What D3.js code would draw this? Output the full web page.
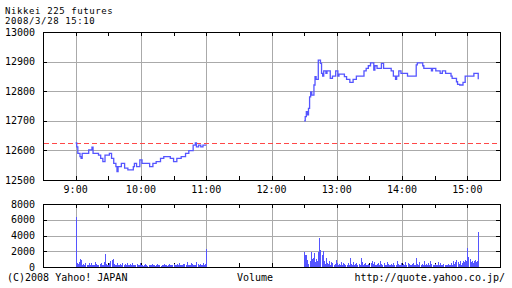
<!DOCTYPE html>
<html>
<head>
<meta charset="utf-8">
<script src="https://cdn.jsdelivr.net/npm/d3@7"></script>
<style>
  body { margin: 0; background: #fff; }
  svg text { font-family: "DejaVu Sans Mono", monospace; font-size: 10px; fill: #000; }
  svg text.title { font-size: 9px; letter-spacing: 0.6px; }
</style>
</head>
<body>
<svg id="chart" width="512" height="288"></svg>
<script>
// price steps (time of change, price)
const morningTimes = ["9:00","9:01","9:02","9:04","9:05","9:06","9:12","9:15","9:16","9:21",
  "9:23","9:25","9:27","9:31","9:33","9:35","9:37","9:38","9:39","9:42",
  "9:45","9:48","9:53","9:54","9:56","9:59","10:01","10:08","10:11","10:14",
  "10:18","10:21","10:27","10:30","10:33","10:37","10:41","10:44","10:48","10:50",
  "10:51","10:53","10:55","10:57","11:00"];
const morningPrices = [12625,12612,12590,12579,12573,12590,12602,12611,12590,12584,
  12573,12562,12584,12590,12573,12556,12545,12528,12545,12556,
  12540,12534,12545,12556,12545,12568,12556,12545,12556,12562,
  12573,12579,12573,12562,12573,12579,12590,12599,12618,12625,
  12612,12618,12612,12618,12618];
const afternoonTimes = ["12:30","12:31","12:32","12:33","12:34","12:35","12:36","12:37","12:39","12:40",
  "12:41","12:43","12:45","12:46","12:47","12:48","12:50","12:51","12:54","12:56",
  "12:59","13:01","13:02","13:07","13:09","13:12","13:15","13:18","13:25","13:27",
  "13:29","13:31","13:34","13:35","13:37","13:41","13:43","13:50","13:52","13:54",
  "13:55","13:57","13:59","14:05","14:13","14:14","14:19","14:20","14:27","14:28",
  "14:31","14:35","14:37","14:40","14:45","14:46","14:50","14:51","14:53","14:56",
  "14:58","15:06","15:10"];
const afternoonPrices = [12700,12714,12731,12720,12742,12781,12798,12787,12821,12849,
  12840,12905,12894,12860,12851,12869,12860,12869,12843,12851,
  12869,12851,12858,12849,12840,12830,12840,12851,12869,12877,
  12886,12896,12871,12886,12877,12894,12877,12869,12851,12840,
  12851,12869,12860,12851,12889,12896,12886,12877,12869,12877,
  12869,12860,12869,12860,12851,12843,12832,12823,12821,12830,
  12851,12860,12840];
const previousClose = 12626;

// volume per minute, starting at volumeStarts
const volumeStarts = ["9:00", "12:30"];
const morningVolume = [6400,500,400,600,1000,900,300,400,200,500,
  300,200,450,300,500,200,300,250,600,400,
  300,200,350,500,200,300,600,1650,400,300,
  200,500,800,900,1000,400,300,200,500,300,
  250,400,300,500,200,350,300,450,200,300,
  400,250,500,300,200,300,400,200,300,500,
  300,200,150,300,400,200,100,300,200,250,
  400,200,300,150,200,350,300,200,100,300,
  200,400,300,200,150,300,400,200,300,250,
  350,200,300,400,300,500,250,300,200,350,
  400,300,600,200,300,250,500,400,300,200,
  300,600,350,200,400,300,250,500,300,400,
  2300];
const afternoonVolume = [1950,1500,1500,900,400,800,1900,1000,1200,1800,
  600,1000,700,1900,3700,2100,1500,2000,800,400,
  1200,500,400,800,300,600,500,200,400,900,
  500,300,400,200,600,300,500,400,200,300,
  500,300,1100,400,300,600,200,400,500,300,
  400,200,1200,600,300,400,500,200,300,400,
  300,500,800,400,600,300,200,400,500,300,
  700,400,300,500,200,300,600,400,300,200,
  400,300,500,200,300,800,400,300,200,500,
  300,400,200,600,300,500,400,200,300,400,
  500,300,200,1100,400,300,600,200,400,300,
  800,300,400,200,500,300,700,400,200,300,
  400,300,200,600,300,500,200,300,400,300,
  200,300,400,300,200,500,300,800,400,600,
  900,600,400,800,300,500,700,600,900,700,
  2400,1300,1000,600,800,500,700,900,600,800,
  4400];

const hourLabels = ["9:00","10:00","11:00","12:00","13:00","14:00","15:00"];
const priceTicks = [12500,12600,12700,12800,12900,13000];
const volumeTicks = [0,2000,4000,6000,8000];

function toMin(s) {
  let p = s.split(":");
  return +p[0] * 60 + +p[1];
}

let svg = d3.select("#chart");
let left = 43, right = 500;

let x = d3.scaleLinear().domain([toMin("8:30"), toMin("15:30")]).range([left, right]);
let yPrice = d3.scaleLinear().domain([12500, 13000]).range([180, 32]);
let yVol = d3.scaleLinear().domain([0, 8000]).range([267, 204]);

let halfHours = d3.range(toMin("9:00"), toMin("15:30"), 30);

// Draws grid, ticks, labels and frame for one panel
function panel(y, ticks, top, bottom) {
  let g = svg.append("g").attr("shape-rendering", "crispEdges");

  g.selectAll(".vgrid")
      .data(hourLabels)
      .enter().append("line")
      .attr("x1", d => Math.round(x(toMin(d))) + 0.5)
      .attr("x2", d => Math.round(x(toMin(d))) + 0.5)
      .attr("y1", top).attr("y2", bottom)
      .attr("stroke", "#aaa");

  g.selectAll(".hgrid")
      .data(ticks.slice(1, -1))
      .enter().append("line")
      .attr("x1", left).attr("x2", right)
      .attr("y1", d => Math.round(y(d)) + 0.5)
      .attr("y2", d => Math.round(y(d)) + 0.5)
      .attr("stroke", "#aaa");

  // inward tick marks
  halfHours.forEach(function(t) {
    let px = Math.round(x(t)) + 0.5;
    g.append("line").attr("x1", px).attr("x2", px).attr("y1", top).attr("y2", top + 4).attr("stroke", "#000");
    g.append("line").attr("x1", px).attr("x2", px).attr("y1", bottom - 4).attr("y2", bottom).attr("stroke", "#000");
  });
  ticks.forEach(function(v) {
    let py = Math.round(y(v)) + 0.5;
    g.append("line").attr("x1", left).attr("x2", left + 4).attr("y1", py).attr("y2", py).attr("stroke", "#000");
    g.append("line").attr("x1", right - 4).attr("x2", right).attr("y1", py).attr("y2", py).attr("stroke", "#000");
  });

  svg.append("g")
      .selectAll("text")
      .data(ticks)
      .enter().append("text")
      .attr("x", 35)
      .attr("y", d => y(d) + 3.5)
      .attr("text-anchor", "end")
      .text(d => d);

  return g;
}

panel(yPrice, priceTicks, 32, 180);
panel(yVol, volumeTicks, 204, 267);

// previous close, red dashes
let closeY = Math.round(yPrice(previousClose));
svg.append("g")
    .attr("shape-rendering", "crispEdges")
    .selectAll("rect")
    .data(d3.range(left + 1, right, 8))
    .enter().append("rect")
    .attr("x", d => d)
    .attr("y", closeY)
    .attr("width", d => Math.min(5, right - d))
    .attr("height", 1)
    .style("fill", "#ff4848");

// price line
let line = d3.line()
    .x(d => x(toMin(d[0])))
    .y(d => yPrice(d[1]))
    .curve(d3.curveStepAfter);

[[morningTimes, morningPrices], [afternoonTimes, afternoonPrices]].forEach(function(s) {
  svg.append("path")
      .datum(d3.zip(s[0], s[1]))
      .attr("fill", "none")
      .attr("stroke", "#5555ff")
      .attr("stroke-width", 1.3)
      .attr("d", line);
});

// volume bars
let bars = [];
[morningVolume, afternoonVolume].forEach(function(vols, i) {
  let start = toMin(volumeStarts[i]);
  vols.forEach(function(v, j) { bars.push({t: start + j, v: v}); });
});

svg.append("g")
    .attr("shape-rendering", "crispEdges")
    .selectAll("rect")
    .data(bars)
    .enter().append("rect")
    .attr("x", d => Math.round(x(d.t)))
    .attr("width", 1)
    .attr("y", d => Math.round(yVol(d.v)))
    .attr("height", d => 267 - Math.round(yVol(d.v)))
    .attr("fill", "#5555ff");

// frames
[[32, 180], [204, 267]].forEach(function(r) {
  svg.append("rect")
      .attr("x", left + 0.5).attr("y", r[0] + 0.5)
      .attr("width", right - left).attr("height", r[1] - r[0])
      .attr("fill", "none")
      .attr("stroke", "#000")
      .attr("shape-rendering", "crispEdges");
});

// hour labels
svg.append("g")
    .selectAll("text")
    .data(hourLabels)
    .enter().append("text")
    .attr("x", d => x(toMin(d)))
    .attr("y", 193)
    .attr("text-anchor", "middle")
    .text(d => d);

svg.append("text").attr("class", "title").attr("x", 5).attr("y", 13.5).text("Nikkei 225 futures");
svg.append("text").attr("class", "title").attr("x", 5).attr("y", 24).text("2008/3/28 15:10");
svg.append("text").attr("x", 7).attr("y", 281).text("(C)2008 Yahoo! JAPAN");
svg.append("text").attr("x", 255).attr("y", 281).attr("text-anchor", "middle").text("Volume");
svg.append("text").attr("x", 505).attr("y", 281).attr("text-anchor", "end").text("http://quote.yahoo.co.jp/");
</script>
</body>
</html>
